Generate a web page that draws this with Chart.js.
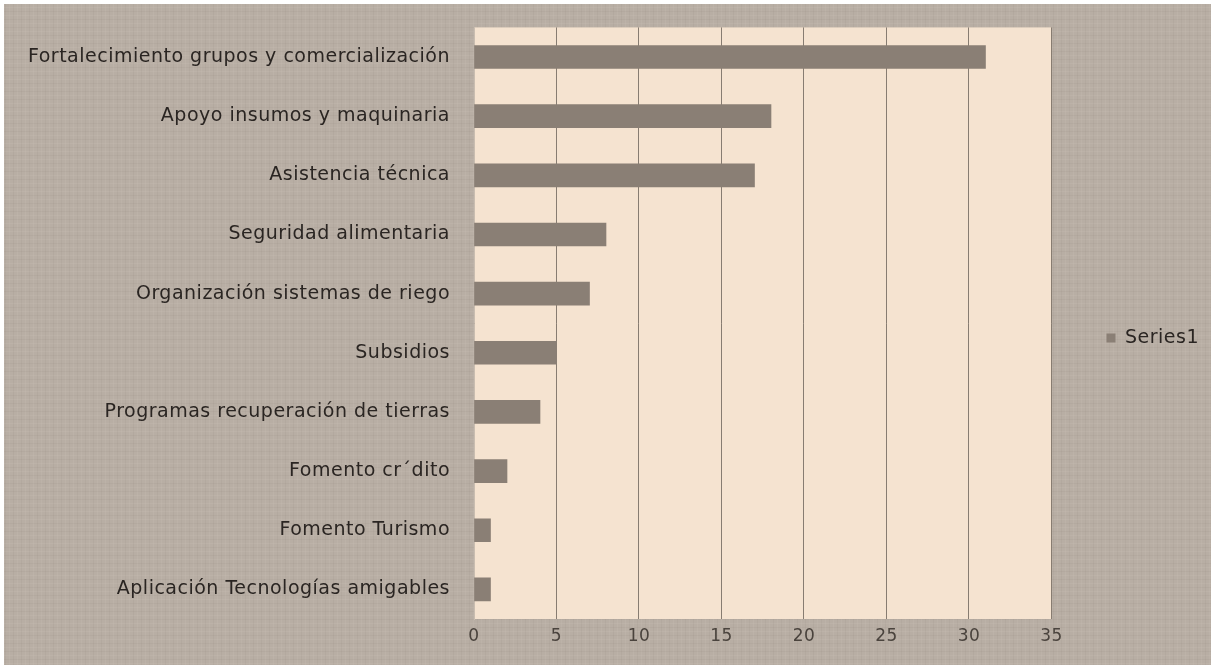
<!DOCTYPE html>
<html>
<head>
<meta charset="utf-8">
<script src="https://cdn.jsdelivr.net/npm/chart.js@4/dist/chart.umd.min.js"></script>
<style>
  html, body { margin: 0; padding: 0; background: #ffffff; }
  #wrap { width: 1214px; height: 667px; }
</style>
</head>
<body>
<div id="wrap"><canvas id="bar-chart"></canvas></div>
<script>
// ---------------------------------------------------------------
// data
// ---------------------------------------------------------------
var categories = [
  'Fortalecimiento grupos y comercialización',
  'Apoyo insumos y maquinaria',
  'Asistencia técnica',
  'Seguridad alimentaria',
  'Organización sistemas de riego',
  'Subsidios',
  'Programas recuperación de tierras',
  'Fomento cr´dito',
  'Fomento Turismo',
  'Aplicación Tecnologías amigables'
];
var series1 = [31, 18, 17, 8, 7, 5, 4, 2, 1, 1];
var xTicks = [0, 5, 10, 15, 20, 25, 30, 35];

// soft linen texture for the page background
function makeLinen(ctx) {
  var c = document.createElement('canvas');
  c.width = 8; c.height = 8;
  var p = c.getContext('2d');
  p.fillStyle = '#b8aea4';
  p.fillRect(0, 0, 8, 8);
  p.fillStyle = 'rgba(130,118,108,0.08)';
  p.fillRect(0, 3, 8, 1);
  p.fillRect(5, 0, 1, 8);
  p.fillStyle = 'rgba(225,218,210,0.10)';
  p.fillRect(0, 7, 8, 1);
  p.fillRect(1, 0, 1, 8);
  return ctx.createPattern(c, 'repeat');
}

// the labels in the picture are drawn quite wide
function spacing(chart) { chart.ctx.letterSpacing = '0.5px'; }

var backgroundPlugin = {
  id: 'backgrounds',
  beforeLayout: spacing,
  beforeDraw: function(chart) {
    spacing(chart);
    var ctx = chart.ctx, a = chart.chartArea;
    ctx.save();
    ctx.fillStyle = makeLinen(ctx);
    ctx.fillRect(4, 4, chart.width - 7, chart.height - 6);
    ctx.fillStyle = '#f5e3d0';
    ctx.fillRect(a.left, a.top, a.right - a.left, a.bottom - a.top);
    ctx.restore();
  }
};

Chart.defaults.font.family = '"DejaVu Sans", sans-serif';
Chart.defaults.font.size = 19;
Chart.defaults.color = '#2a2522';

var chartCanvas = document.getElementById('bar-chart');
var newChart = new Chart(chartCanvas, {
  type: 'bar',
  data: {
    labels: categories,
    datasets: [{
      label: 'Series1',
      data: series1,
      backgroundColor: '#8a7f75',
      borderWidth: 0,
      barThickness: 23
    }]
  },
  options: {
    indexAxis: 'y',
    responsive: true,
    maintainAspectRatio: false,
    animation: false,
    layout: { padding: { top: 9, left: 0, right: 5, bottom: 0 } },
    plugins: {
      tooltip: { enabled: false },
      legend: {
        display: true,
        position: 'right',
        labels: {
          boxWidth: 9,
          boxHeight: 9,
          padding: 55,
          color: '#2a2522',
          font: { size: 19 }
        }
      }
    },
    scales: {
      x: {
        min: 0,
        max: 35,
        afterBuildTicks: function(scale) {
          scale.ticks = xTicks.map(function(v) { return { value: v }; });
        },
        afterFit: function(scale) { scale.height = 48; },
        grid: { color: '#877c71', lineWidth: 1, drawTicks: false },
        border: { display: false },
        ticks: { color: '#4a433d', padding: 7, font: { size: 17 } }
      },
      y: {
        afterFit: function(scale) { scale.width = 474; },
        grid: { display: false },
        border: { display: true, color: '#c9bdb0' },
        ticks: { color: '#2a2522', padding: 16, font: { size: 19 } }
      }
    }
  },
  plugins: [backgroundPlugin]
});
</script>
</body>
</html>
